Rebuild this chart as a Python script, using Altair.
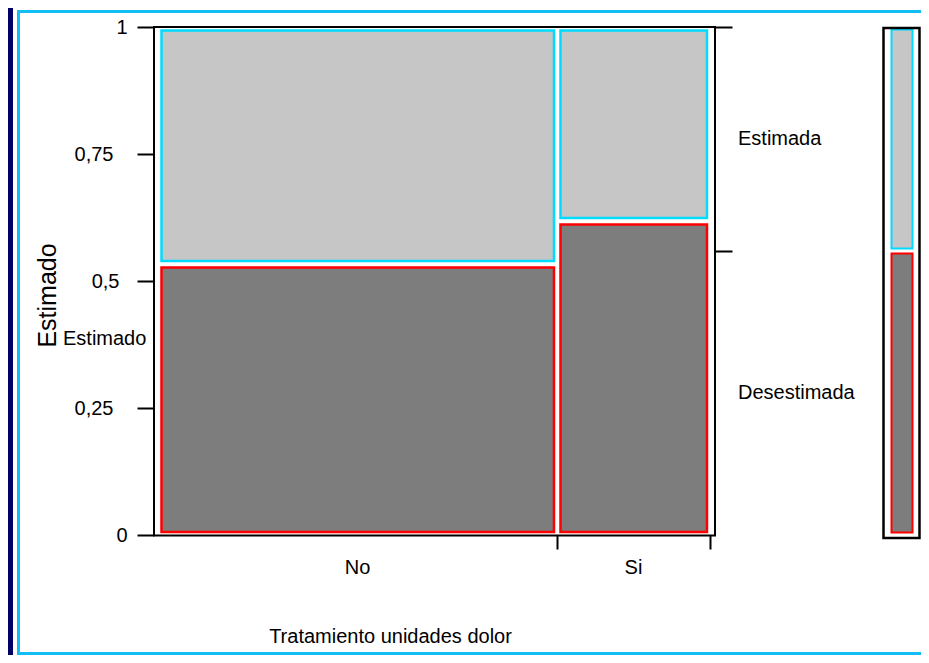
import altair as alt
import pandas as pd

# ---- data ----
columns = ["No", "Si"]
column_share = [0.7228, 0.2772]
levels = ["Desestimada", "Estimada"]
level_share_no = [0.5335, 0.4665]
level_share_si = [0.618, 0.382]
margin_share = [0.559, 0.441]
y_ticks = [0, 0.25, 0.5, 0.75, 1]
x_title = "Tratamiento unidades dolor"
y_title = "Estimado"

fill_colors = ["#7d7d7d", "#c6c6c6"]
stroke_colors = ["#ff0000", "#00dcff"]
FONT = "Liberation Sans"
NAVY = "#000066"
CYAN = "#12bdf5"

# ---- tables built from the lists ----
rows = []
x0 = 0.0
for c, w, shares in zip(columns, column_share, [level_share_no, level_share_si]):
    y0 = 0.0
    for lev, h in zip(levels, shares):
        rows.append(dict(col=c, level=lev, x0=x0, x1=x0 + w, y0=y0, y1=y0 + h))
        y0 += h
    x0 += w
mosaic = pd.DataFrame(rows)

cols = pd.DataFrame({"col": columns})
starts = [sum(column_share[:i]) for i in range(len(columns))]
cols["mid"] = [s + w / 2 for s, w in zip(starts, column_share)]
boundaries = [sum(column_share[: i + 1]) for i in range(len(columns))]

mstarts = [sum(margin_share[:i]) for i in range(len(levels))]
marg = pd.DataFrame({
    "level": levels,
    "y0": mstarts,
    "y1": [s + h for s, h in zip(mstarts, margin_share)],
    "mid": [s + h / 2 for s, h in zip(mstarts, margin_share)],
    "x0": [0, 0], "x1": [1, 1],
})
frame_df = pd.DataFrame({"x0": [0], "x1": [1], "y0": [0], "y1": [1]})
one = pd.DataFrame({"a": [0]})

xs_main = alt.Scale(domain=[0, 1], range=[4, 556], nice=False, zero=False)
xs_marg = alt.Scale(domain=[0, 1], range=[729.5, 765.5], nice=False, zero=False)
ys = alt.Scale(domain=[0, 1], nice=False, zero=False)

fill_scale = alt.Scale(domain=levels, range=fill_colors)
stroke_scale = alt.Scale(domain=levels, range=stroke_colors)

# page panel (white with cyan border)
panel = alt.Chart(one).mark_rect(fill="white").encode(
    x=alt.value(-141), x2=alt.value(800), y=alt.value(-21), y2=alt.value(700)
)
panel_border = alt.Chart(one).mark_rect(fillOpacity=0, stroke=CYAN, strokeWidth=3).encode(
    x=alt.value(-135.5), x2=alt.value(800), y=alt.value(-15.5), y2=alt.value(626.5)
)
frame = alt.Chart(one).mark_rect(fillOpacity=0, stroke="black", strokeWidth=2).encode(
    x=alt.value(0), x2=alt.value(561), y=alt.value(0), y2=alt.value(508.5)
)

label_pad = {
    "condition": [
        {"test": "datum.value == 0.5", "value": 18},
        {"test": "datum.value == 0.25 || datum.value == 0.75", "value": 24},
    ],
    "value": 10,
}

mosaic_chart = alt.Chart(mosaic).mark_rect(
    xOffset=3.5, x2Offset=-3, yOffset=-3, y2Offset=3.5, strokeWidth=2.5
).encode(
    x=alt.X("x0:Q", scale=xs_main, axis=alt.Axis(
        orient="bottom", values=boundaries, tickSize=14, tickWidth=2, tickColor="black",
        labels=False, domain=False, grid=False, zindex=1,
        title=x_title, titleFont=FONT, titleFontSize=20, titleFontWeight="normal",
        titleColor="black", titleX=236, titleY=107, titleAlign="center",
        titleBaseline="alphabetic", titleAngle=0)),
    x2="x1:Q",
    y=alt.Y("y0:Q", scale=ys, axis=alt.Axis(
        orient="left", values=y_ticks, tickSize=17, tickWidth=2, tickColor="black",
        domain=False, grid=False, zindex=1,
        labelFont=FONT, labelFontSize=20, labelColor="black", labelAlign="right",
        labelBaseline="middle", labelPadding=label_pad,
        labelExpr="replace(format(datum.value, '~g'), '.', ',')",
        title=y_title, titleFont=FONT, titleFontSize=25, titleFontWeight="normal",
        titleColor="black", titleX=-99, titleY=268, titleAngle=270,
        titleAlign="center", titleBaseline="alphabetic")),
    y2="y1:Q",
    fill=alt.Fill("level:N", scale=fill_scale, legend=None),
    stroke=alt.Stroke("level:N", scale=stroke_scale, legend=None),
)

col_text = alt.Chart(cols).mark_text(
    font=FONT, fontSize=20, color="black", align="center", baseline="alphabetic"
).encode(
    x=alt.X("mid:Q", scale=xs_main, axis=None),
    y=alt.value(547),
    text="col:N",
)

marg_frame = alt.Chart(frame_df).mark_rect(
    fillOpacity=0, stroke="black", strokeWidth=2.5, yOffset=3, y2Offset=1
).encode(
    x=alt.X("x0:Q", scale=xs_marg, axis=None),
    x2="x1:Q",
    y=alt.Y("y0:Q", scale=ys, axis=alt.Axis(
        orient="right", values=[margin_share[0], 1], tickSize=17, tickWidth=2,
        tickColor="black", labels=False, domain=False, grid=False, title=None, zindex=1)),
    y2="y1:Q",
)

marg_rects = alt.Chart(marg).mark_rect(
    xOffset=8, x2Offset=-7, yOffset=-2.5, y2Offset=2.5, strokeWidth=2
).encode(
    x=alt.X("x0:Q", scale=xs_marg, axis=None),
    x2="x1:Q",
    y=alt.Y("y0:Q", scale=ys, axis=None),
    y2="y1:Q",
    fill=alt.Fill("level:N", scale=fill_scale, legend=None),
    stroke=alt.Stroke("level:N", scale=stroke_scale, legend=None),
)

level_text = alt.Chart(marg).mark_text(
    font=FONT, fontSize=20, color="black", align="left", baseline="middle"
).encode(
    y=alt.Y("mid:Q", scale=ys, axis=None),
    x=alt.value(584),
    text="level:N",
)

small_label = alt.Chart(one).mark_text(
    text=y_title, font=FONT, fontSize=20, color="black", align="left", baseline="alphabetic"
).encode(x=alt.value(-91), y=alt.value(318))

chart = alt.layer(
    panel, panel_border, mosaic_chart, col_text, marg_rects, marg_frame, level_text,
    small_label, frame,
).resolve_scale(
    x="independent", y="independent"
).properties(
    width=561, height=508,
    autosize=alt.AutoSizeParams(type="none"),
    padding={"left": 146, "top": 19, "right": 206, "bottom": 120},
    background=NAVY,
).configure_view(strokeWidth=0)

chart.save("out.html", embed_options={"renderer": "svg", "actions": False})
